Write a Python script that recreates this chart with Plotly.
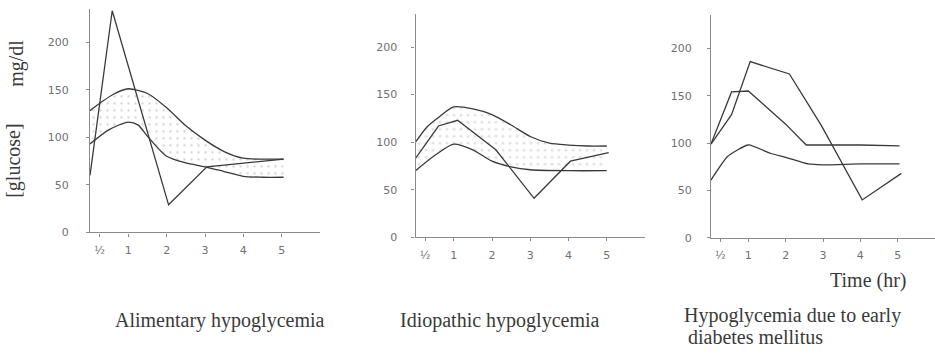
import plotly.graph_objects as go

W, H = 935, 362

# ---------------- data (hours, mg/dl) ----------------
# Panel 1: Alimentary hypoglycemia
p1_upper_t = [0, 0.3, 0.6, 1.0, 1.5, 2.0, 2.5, 3.0, 3.5, 4.0, 4.5, 5.05]
p1_upper_v = [128, 137, 145, 151, 146, 131, 112, 97, 85, 78, 77, 77]
p1_lower_t = [0, 0.5, 1.0, 1.25, 1.5, 2.0, 2.5, 3.0, 3.5, 4.0, 4.5, 5.05]
p1_lower_v = [93, 108, 116, 113, 101, 80, 73, 69, 64, 59, 58, 58]
p1_patient_t = [0, 0.58, 2.05, 3.05, 5.05]
p1_patient_v = [60, 233, 29, 69, 77]

# Panel 2: Idiopathic hypoglycemia
p2_upper_t = [0, 0.3, 0.6, 1.0, 1.5, 2.0, 2.5, 3.0, 3.5, 4.0, 4.5, 5.0]
p2_upper_v = [100, 116, 126, 137, 135, 129, 118, 106, 99, 97, 96, 96]
p2_lower_t = [0, 0.5, 1.0, 1.5, 2.0, 2.5, 3.0, 4.0, 5.0]
p2_lower_v = [70, 86, 98, 92, 80, 74, 71, 70, 70]
p2_patient_t = [0, 0.6, 1.1, 2.1, 3.1, 4.05, 5.05]
p2_patient_v = [83, 117, 123, 92, 41, 80, 89]

# Panel 3: Hypoglycemia due to early diabetes mellitus
p3_a_t = [0, 0.55, 1.05, 2.1, 2.95, 4.05, 5.1]
p3_a_v = [99, 130, 186, 173, 119, 40, 68]
p3_b_t = [0, 0.55, 1.0, 1.5, 2.0, 2.55, 4.0, 5.05]
p3_b_v = [99, 154, 155, 138, 120, 98, 98, 97]
p3_c_t = [0, 0.45, 1.0, 1.6, 2.0, 2.6, 3.0, 4.0, 5.05]
p3_c_v = [61, 86, 98, 89, 85, 78, 77, 78, 78]

x_tickvals = [0.25, 1, 2, 3, 4, 5]
x_ticktext = ["½", "1", "2", "3", "4", "5"]
y_tickvals = [0, 50, 100, 150, 200]

titles = ["Alimentary hypoglycemia", "Idiopathic hypoglycemia",
          "Hypoglycemia due to early", "diabetes mellitus"]

# ---------------- figure ----------------
fig = go.Figure()
LINE = dict(color="#3a3a3a", width=1.3)


def band(xa, ya, up_t, up_v, lo_t, lo_v):
    fig.add_trace(go.Scatter(
        x=up_t + lo_t[::-1], y=up_v + lo_v[::-1], mode="lines",
        fill="toself", line=dict(width=0, color="rgba(0,0,0,0)"),
        fillcolor="rgba(0,0,0,0)",
        fillpattern=dict(shape=".", size=7, solidity=0.1,
                         fgcolor="#b0b0b0", bgcolor="rgba(255,255,255,0)"),
        xaxis=xa, yaxis=ya, hoverinfo="skip", showlegend=False))
    for t, v in ((up_t, up_v), (lo_t, lo_v)):
        fig.add_trace(go.Scatter(x=t, y=v, mode="lines",
                                 line=dict(**LINE, shape="spline", smoothing=0.7),
                                 xaxis=xa, yaxis=ya, showlegend=False))


def curve(xa, ya, t, v, smooth=False):
    ln = dict(**LINE)
    if smooth:
        ln.update(shape="spline", smoothing=0.5)
    fig.add_trace(go.Scatter(x=t, y=v, mode="lines", line=ln,
                             xaxis=xa, yaxis=ya, showlegend=False))


band("x", "y", p1_upper_t, p1_upper_v, p1_lower_t, p1_lower_v)
curve("x", "y", p1_patient_t, p1_patient_v)
band("x2", "y2", p2_upper_t, p2_upper_v, p2_lower_t, p2_lower_v)
curve("x2", "y2", p2_patient_t, p2_patient_v)
curve("x3", "y3", p3_a_t, p3_a_v)
curve("x3", "y3", p3_b_t, p3_b_v)
curve("x3", "y3", p3_c_t, p3_c_v, smooth=True)

# pixel geometry of each panel: (left, right, bottom, top)
panels = [(90, 320, 237, 9), (415.5, 645, 242, 14), (711, 935, 242.5, 15.5)]
ystand = [15, 12, 13]

tickfont = dict(family="DejaVu Sans", size=11, color="#707070")
for i, (l, r, b, t) in enumerate(panels):
    sfx = "" if i == 0 else str(i + 1)
    fig.layout["xaxis" + sfx] = dict(
        domain=[l / W, min(r / W, 1)], range=[0, 6], anchor="y" + sfx,
        showline=True, linecolor="#8a8a8a", linewidth=1.2, showgrid=False,
        zeroline=False, ticks="outside", ticklen=3, tickcolor="#8a8a8a",
        tickvals=x_tickvals, ticktext=x_ticktext, tickfont=tickfont,
        ticklabelstandoff=4, fixedrange=True)
    fig.layout["yaxis" + sfx] = dict(
        domain=[1 - b / H, 1 - t / H], range=[0, 235], anchor="x" + sfx,
        showline=True, linecolor="#8a8a8a", linewidth=1.2, showgrid=False,
        zeroline=False, ticks="outside", ticklen=3, tickcolor="#8a8a8a",
        tickvals=y_tickvals, tickfont=tickfont,
        ticklabelstandoff=ystand[i], fixedrange=True)

serif = dict(family="Liberation Serif", size=20, color="#3a3a3a")
ann = [
    dict(text=titles[0], x=220 / W, y=1 - 327 / H, xanchor="center", yanchor="middle"),
    dict(text=titles[1], x=500 / W, y=1 - 327 / H, xanchor="center", yanchor="middle"),
    dict(text=titles[2], x=682 / W, y=1 - 322 / H, xanchor="left", yanchor="middle"),
    dict(text=titles[3], x=686 / W, y=1 - 344 / H, xanchor="left", yanchor="middle"),
    dict(text="Time (hr)", x=868 / W, y=1 - 286 / H, xanchor="center", yanchor="middle"),
    dict(text="[glucose]", x=14 / W, y=1 - 164 / H, xanchor="center", yanchor="middle",
         textangle=-90),
    dict(text="mg/dl", x=17 / W, y=1 - 65 / H, xanchor="center", yanchor="middle",
         textangle=-90),
]
for a in ann:
    fig.add_annotation(xref="paper", yref="paper", showarrow=False, font=serif, **a)

fig.update_layout(width=W, height=H, margin=dict(l=0, r=0, t=0, b=0),
                  paper_bgcolor="white", plot_bgcolor="white", showlegend=False)

fig.write_html("out.html", config={"displayModeBar": False})
